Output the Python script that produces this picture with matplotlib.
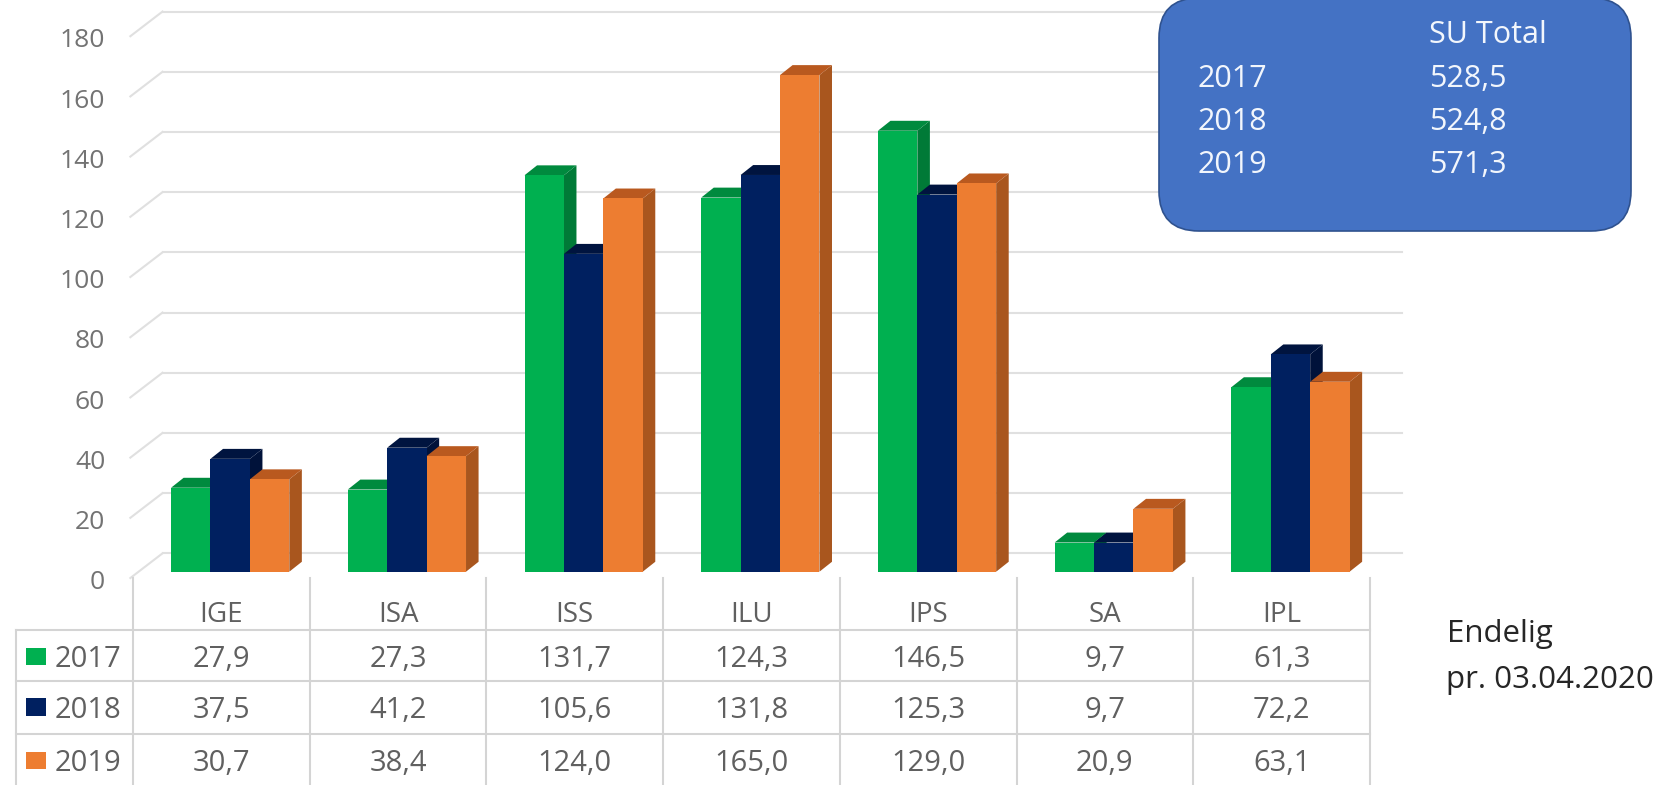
import matplotlib
matplotlib.use('Agg')
import matplotlib.pyplot as plt
from matplotlib.patches import FancyBboxPatch, Rectangle
from matplotlib.transforms import ScaledTranslation, IdentityTransform
import numpy as np

plt.rcParams['font.family'] = ['Open Sans', 'DejaVu Sans']

categories = ['IGE', 'ISA', 'ISS', 'ILU', 'IPS', 'SA', 'IPL']
years = ['2017', '2018', '2019']
v2017 = [27.9, 27.3, 131.7, 124.3, 146.5, 9.7, 61.3]
v2018 = [37.5, 41.2, 105.6, 131.8, 125.3, 9.7, 72.2]
v2019 = [30.7, 38.4, 124.0, 165.0, 129.0, 20.9, 63.1]
yticks = [0, 20, 40, 60, 80, 100, 120, 140, 160, 180]
su_total = ['528,5', '524,8', '571,3']

front = ['#00b050', '#002060', '#ed7d31']
top = ['#008a3e', '#00143f', '#b9591f']
side = ['#007a37', '#00123a', '#a9561e']
gridcol = '#e0e0e0'
tablecol = '#d4d4d4'
labelcol = '#606060'

W, H = 1666, 785
fig = plt.figure(figsize=(W/100, H/100), dpi=100)

# main axes: pixel box of the plot floor
left, right, y0, y180 = 133, 1370, 571.7, 29.9
ax = fig.add_axes([left/W, 1-y0/H, (right-left)/W, (y0-y180)/H])
ax.set_xlim(-0.5, 6.5)
ax.set_ylim(0, 180)
for s in ax.spines.values():
    s.set_visible(False)
ax.set_xticks([])
ax.set_yticks(yticks)
ax.tick_params(axis='y', length=0, pad=20, labelsize=19, labelcolor='#737373')
off = ScaledTranslation(0, -8/100, fig.dpi_scale_trans)
for lab in ax.get_yticklabels():
    lab.set_transform(lab.get_transform() + off)

# rear wall lines and the slanted floor/side lines
back_dx, back_dy = 0.167, 6.1
for v in yticks:
    ax.plot([-0.5+back_dx, 6.5+0.18], [v+back_dy, v+back_dy], color=gridcol, lw=1.5, clip_on=False, zorder=1)
    ax.plot([-0.515, -0.5+back_dx], [v-2.1, v+back_dy], color=gridcol, lw=1.5, clip_on=False, zorder=1)

# bars with fake depth
barw = 0.223
shift = 0.05
dx, dy = 0.071, 3.3
x = np.arange(len(categories))
series = [v2017, v2018, v2019]
for k, vals in enumerate(series):
    xs = x + shift + (k-1)*barw
    for xi, v in zip(xs, vals):
        z = 3 + k*3
        xl, xr = xi-barw/2, xi+barw/2
        ax.fill([xr, xr+dx, xr+dx, xr], [0, dy, v+dy, v], color=side[k], lw=0, zorder=z, clip_on=False)
        ax.fill([xl, xl+dx, xr+dx, xr], [v, v+dy, v+dy, v], color=top[k], lw=0, zorder=z+1, clip_on=False)
    ax.bar(xs, vals, width=barw, color=front[k], lw=0, zorder=3+k*3+2)

# data table, x shares the bar axis, y in pixels
tab = fig.add_axes([left/W, 0, (right-left)/W, 1])
tab.set_xlim(-0.5, 6.5)
tab.set_ylim(H, 0)
tab.axis('off')
tab.patch.set_alpha(0)
cat_w = (right-left)/7.0
def px(p):
    return -0.5 + (p-left)/cat_w

for sep in range(8):
    tab.plot([sep-0.5, sep-0.5], [578, H], color=tablecol, lw=1.5, clip_on=False)
tab.plot([px(16), px(16)], [630, H], color=tablecol, lw=1.5, clip_on=False)
rows_line = [630, 681, 734]
for r in rows_line:
    tab.plot([px(16), 6.5], [r, r], color=tablecol, lw=1.5, clip_on=False)

for i, c in enumerate(categories):
    tab.text(i, 614.5, c, ha='center', va='center', fontsize=20, color=labelcol)
rows_y = [659.5, 711, 763.5]
swatch_y = [647.7, 698, 751.7]
for k, vals in enumerate(series):
    for i, v in enumerate(vals):
        tab.text(i, rows_y[k], f'{v:.1f}'.replace('.', ','), ha='center', va='center', fontsize=21, color=labelcol)
    tab.add_patch(Rectangle((px(25.7), swatch_y[k]), 20.7/cat_w, 17.5, color=front[k], lw=0, clip_on=False))
    tab.text(px(55), rows_y[k], years[k], ha='left', va='center', fontsize=21, color=labelcol)

# blue box top right
box_r = 40
box = FancyBboxPatch((1159+box_r, H-231+box_r), 472-2*box_r, 233-2*box_r,
                     boxstyle=f'round,pad={box_r},rounding_size={box_r}',
                     fc='#4472c4', ec='#2f528f', lw=1.2, transform=IdentityTransform(), zorder=30)
fig.add_artist(box)
fig.text(1429/W, 1-35/H, 'SU Total', color='#f2f6fc', fontsize=22, ha='left', va='center', zorder=31)
box_y = [79, 122, 165]
for k in range(3):
    fig.text(1197.5/W, 1-box_y[k]/H, years[k], color='#f2f6fc', fontsize=22, ha='left', va='center', zorder=31)
    fig.text(1429/W, 1-box_y[k]/H, su_total[k], color='#f2f6fc', fontsize=22, ha='left', va='center', zorder=31)

fig.text(1446.5/W, 1-634/H, 'Endelig', color='#262626', fontsize=22.5, ha='left', va='center')
fig.text(1446.5/W, 1-680/H, 'pr. 03.04.2020', color='#262626', fontsize=22.5, ha='left', va='center')

fig.savefig('out.png', dpi=100)
